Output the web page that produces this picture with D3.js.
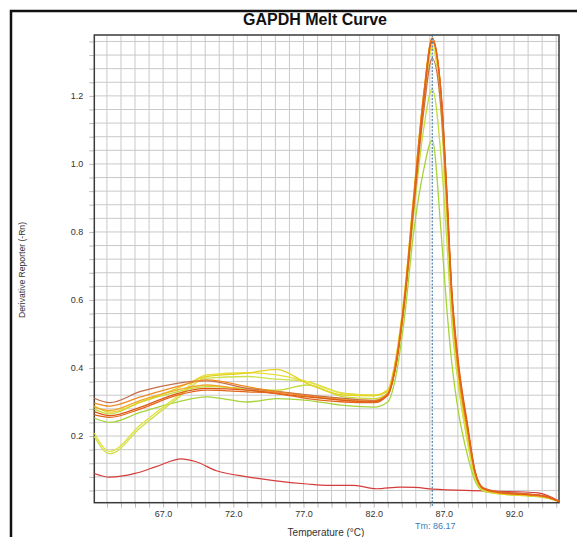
<!DOCTYPE html>
<html>
<head>
<meta charset="utf-8">
<script src="https://cdn.jsdelivr.net/npm/d3@7"></script>
<style>
  body { margin: 0; background: #fff; }
  svg { display: block; font-family: "Liberation Sans", Arial, sans-serif; }
</style>
</head>
<body>
<svg id="chart" width="577" height="537"></svg>
<script>
// temperatures (°C) shared by the sample curves
const meltTemps = [62.1, 63.2, 65.4, 68.0, 70.1, 73.0, 75.1, 77.25, 79.9, 82.0, 83.0, 83.5, 84.2, 84.85, 85.55, 86.17, 86.8, 87.2, 87.55, 88.0, 88.7, 89.2, 89.8, 91.0, 93.0, 94.3, 95.2];

// derivative reporter values, one array per well
const wellGreen = [0.253, 0.24, 0.27, 0.30, 0.315, 0.30, 0.31, 0.305, 0.29, 0.285, 0.3, 0.36, 0.55, 0.8, 0.98, 1.07, 0.8, 0.58, 0.42, 0.28, 0.14, 0.07, 0.038, 0.03, 0.024, 0.018, 0.008];
const wellLime = [0.279, 0.265, 0.3, 0.33, 0.345, 0.34, 0.335, 0.35, 0.315, 0.31, 0.325, 0.39, 0.58, 0.85, 1.1, 1.22, 1.02, 0.78, 0.54, 0.36, 0.18, 0.08, 0.04, 0.03, 0.025, 0.019, 0.008];
const wellLimeLow = [0.199, 0.148, 0.225, 0.31, 0.37, 0.375, 0.367, 0.36, 0.325, 0.32, 0.33, 0.4, 0.61, 0.89, 1.17, 1.34, 1.15, 0.85, 0.57, 0.37, 0.18, 0.082, 0.041, 0.03, 0.025, 0.019, 0.008];
const wellYellowLow = [0.209, 0.155, 0.233, 0.316, 0.38, 0.386, 0.38, 0.36, 0.325, 0.32, 0.335, 0.41, 0.62, 0.9, 1.19, 1.35, 1.17, 0.87, 0.59, 0.38, 0.19, 0.085, 0.042, 0.031, 0.026, 0.02, 0.008];
const wellYellow = [0.289, 0.27, 0.3, 0.34, 0.375, 0.385, 0.396, 0.355, 0.32, 0.318, 0.335, 0.41, 0.62, 0.91, 1.2, 1.37, 1.18, 0.88, 0.6, 0.39, 0.2, 0.088, 0.043, 0.031, 0.025, 0.019, 0.008];
const wellAmber = [0.285, 0.275, 0.305, 0.335, 0.35, 0.335, 0.33, 0.32, 0.308, 0.305, 0.325, 0.4, 0.61, 0.9, 1.2, 1.36, 1.19, 0.9, 0.61, 0.4, 0.21, 0.092, 0.044, 0.032, 0.027, 0.02, 0.008];
const wellBrown = [0.311, 0.298, 0.331, 0.355, 0.362, 0.34, 0.331, 0.321, 0.311, 0.304, 0.32, 0.39, 0.6, 0.87, 1.15, 1.31, 1.16, 0.9, 0.62, 0.41, 0.22, 0.1, 0.048, 0.036, 0.03, 0.022, 0.008];
const wellOrange = [0.297, 0.288, 0.315, 0.345, 0.365, 0.345, 0.33, 0.318, 0.305, 0.302, 0.325, 0.4, 0.61, 0.9, 1.2, 1.37, 1.2, 0.91, 0.62, 0.41, 0.22, 0.095, 0.045, 0.033, 0.027, 0.021, 0.008];
const wellDarkOrange = [0.272, 0.26, 0.285, 0.325, 0.34, 0.335, 0.325, 0.315, 0.305, 0.30, 0.322, 0.39, 0.6, 0.88, 1.18, 1.36, 1.21, 0.93, 0.64, 0.43, 0.23, 0.1, 0.046, 0.034, 0.028, 0.022, 0.008];
const wellRedOrange = [0.262, 0.255, 0.28, 0.32, 0.335, 0.33, 0.325, 0.31, 0.30, 0.298, 0.32, 0.39, 0.6, 0.89, 1.19, 1.37, 1.21, 0.92, 0.63, 0.42, 0.22, 0.098, 0.047, 0.035, 0.029, 0.023, 0.008];

// no-template control
const ntcTemps = [62.1, 63.2, 65.0, 66.5, 68.3, 69.3, 70.8, 73.0, 74.9, 77.25, 78.7, 80.6, 82.2, 83.9, 85.0, 86.2, 89.8, 93.7, 95.15];
const ntcValues = [0.09, 0.079, 0.09, 0.11, 0.133, 0.125, 0.098, 0.08, 0.069, 0.059, 0.055, 0.055, 0.045, 0.05, 0.049, 0.044, 0.039, 0.033, 0.01];

const wells = [
    { values: wellGreen, color: '#a6d43a' },
    { values: wellLime, color: '#c4dc3c' },
    { values: wellLimeLow, color: '#cce04c' },
    { values: wellYellowLow, color: '#e4e03c' },
    { values: wellYellow, color: '#e6d21e' },
    { values: wellAmber, color: '#eeaa2c' },
    { values: wellBrown, color: '#c8704a' },
    { values: wellOrange, color: '#f08a24' },
    { values: wellDarkOrange, color: '#dc5a14' },
    { values: wellRedOrange, color: '#e4641c' }
];

const tm = 86.17;
const yLabelTicks = [0.2, 0.4, 0.6, 0.8, 1.0, 1.2];
const xLabelTicks = [67, 72, 77, 82, 87, 92];

const svg = d3.select('svg#chart'),
    plotLeft = 94.3,
    plotRight = 559,
    plotTop = 35,
    plotBottom = 502.7,
    gridColor = '#c9c9c9',
    textColor = '#333';

const x = d3.scaleLinear().domain([62.1, 95.2]).range([plotLeft, plotRight]);
const y = d3.scaleLinear().domain([0.004, 1.379]).range([plotBottom, plotTop]);

const xMinor = d3.range(63, 96).map(d => d);
const yMinor = d3.range(1, 35).map(i => +(i * 0.04).toFixed(2));

drawFrame();
drawGrid();
drawAxes();
drawCurves();
drawTm();
drawLabels();

function drawFrame() {
    svg.append('rect')
        .attr('width', 577).attr('height', 537).attr('fill', '#fff');
    svg.append('path')
        .attr('d', 'M11,540 L11,11 L580,11')
        .attr('fill', 'none')
        .attr('stroke', '#111')
        .attr('stroke-width', 2.5);
}

function drawGrid() {
    const g = svg.append('g');
    g.selectAll('line.gx').data(xMinor).join('line')
        .attr('x1', d => x(d)).attr('x2', d => x(d))
        .attr('y1', plotTop).attr('y2', plotBottom)
        .attr('stroke', gridColor).attr('stroke-width', 1);
    g.selectAll('line.gy').data(yMinor).join('line')
        .attr('x1', plotLeft).attr('x2', plotRight)
        .attr('y1', d => y(d)).attr('y2', d => y(d))
        .attr('stroke', gridColor).attr('stroke-width', 1);
}

function drawAxes() {
    const yAxis = d3.axisLeft(y)
        .tickValues(yMinor)
        .tickSize(5)
        .tickPadding(6)
        .tickFormat(d => yLabelTicks.some(v => Math.abs(v - d) < 1e-6) ? d3.format('.1f')(d) : '');
    const gy = svg.append('g').attr('transform', `translate(${plotLeft},0)`).call(yAxis);

    const xAxis = d3.axisBottom(x)
        .tickValues(xMinor)
        .tickSize(5)
        .tickPadding(3)
        .tickFormat(d => xLabelTicks.includes(d) ? d3.format('.1f')(d) : '');
    const gx = svg.append('g').attr('transform', `translate(0,${plotBottom})`).call(xAxis);

    [gx, gy].forEach(g => {
        g.select('.domain').remove();
        g.selectAll('.tick line').attr('stroke', '#bbb');
        g.selectAll('.tick text')
            .attr('fill', textColor)
            .style('font-size', '9px')
            .style('font-family', '"Liberation Sans", Arial, sans-serif');
    });

    svg.append('rect')
        .attr('x', plotLeft).attr('y', plotTop)
        .attr('width', plotRight - plotLeft).attr('height', plotBottom - plotTop)
        .attr('fill', 'none')
        .attr('stroke', '#3a3a3a')
        .attr('stroke-width', 1.5);
}

function drawCurves() {
    const line = d3.line()
        .x(d => x(d[0]))
        .y(d => y(d[1]))
        .curve(d3.curveMonotoneX);

    svg.append('path')
        .datum(ntcTemps.map((t, i) => [t, ntcValues[i]]))
        .attr('d', line)
        .attr('fill', 'none')
        .attr('stroke', '#d43c3c')
        .attr('stroke-width', 1.2);

    wells.forEach(w => {
        svg.append('path')
            .datum(meltTemps.map((t, i) => [t, w.values[i]]))
            .attr('d', line)
            .attr('fill', 'none')
            .attr('stroke', w.color)
            .attr('stroke-width', 1.3);
    });
}

function drawTm() {
    svg.append('line')
        .attr('x1', x(tm)).attr('x2', x(tm))
        .attr('y1', plotTop).attr('y2', plotBottom + 4)
        .attr('stroke', '#2c6aa6')
        .attr('stroke-width', 1)
        .attr('stroke-dasharray', '2,1.5');
    svg.append('text')
        .text('Tm: ' + tm.toFixed(2))
        .attr('x', x(tm) + 3).attr('y', 529)
        .attr('text-anchor', 'middle')
        .attr('fill', '#3d7db8')
        .style('font-size', '9px');
}

function drawLabels() {
    svg.append('text')
        .text('GAPDH Melt Curve')
        .attr('x', 315).attr('y', 25)
        .attr('text-anchor', 'middle')
        .attr('fill', '#111')
        .style('font-size', '16px')
        .style('font-weight', 'bold');

    svg.append('text')
        .text('Temperature (°C)')
        .attr('x', 326).attr('y', 536)
        .attr('text-anchor', 'middle')
        .attr('fill', textColor)
        .style('font-size', '10px');

    svg.append('text')
        .text('Derivative Reporter (-Rn)')
        .attr('transform', 'translate(25,270) rotate(-90)')
        .attr('text-anchor', 'middle')
        .attr('fill', textColor)
        .attr('textLength', 96)
        .attr('lengthAdjust', 'spacingAndGlyphs')
        .style('font-size', '9px');
}
</script>
</body>
</html>
